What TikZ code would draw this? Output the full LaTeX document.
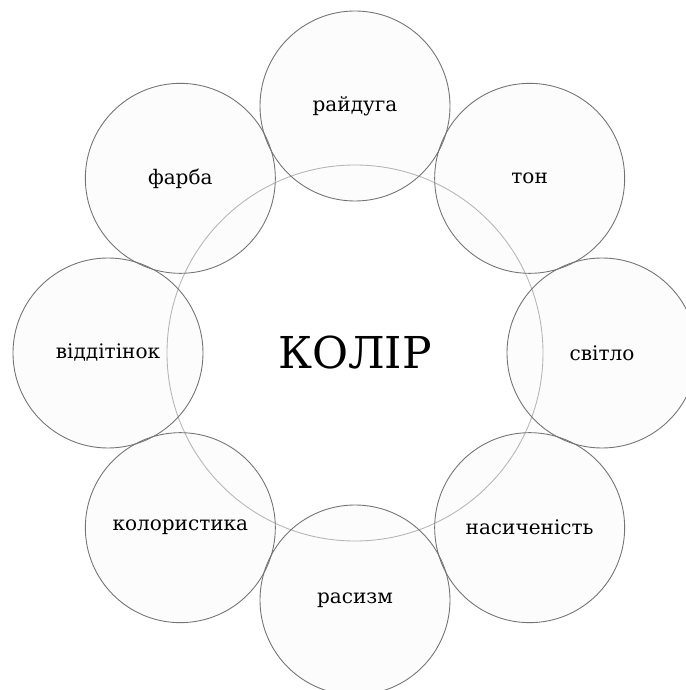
\documentclass[tikz,border=0pt]{standalone}
\usepackage{fontspec}
\newfontfamily\labelfont{DejaVu Serif}
\tikzset{
  ring circle/.style={
    circle,
    draw=black!55,
    line width=0.5pt,
    fill=black,
    fill opacity=0.012,
    text opacity=1,
    minimum size=3.8cm,
    inner sep=0pt,
    font=\labelfont\fontsize{11.4}{14}\selectfont
  },
  main circle/.style={
    circle,
    draw=black!28,
    line width=0.5pt,
    minimum size=7.52cm,
    inner sep=0pt,
    font=\labelfont\fontsize{25}{30}\selectfont
  }
}

\begin{document}
\begin{tikzpicture}
  \useasboundingbox (-7.1,-6.74) rectangle (6.6,7.06);
  \node[main circle] (kolir) at (0,0) {КОЛІР};
  \foreach \ang/\nm/\txt in {90/raiduha/райдуга, 45/ton/тон, 0/svitlo/світло,
      -45/nasychenist/насиченість, -90/rasyzm/расизм, -135/kororystyka/колористика,
      180/vidtinok/віддітінок, 135/farba/фарба} {
    \node[ring circle] (\nm) at (\ang:4.94) {\txt};
  }
\end{tikzpicture}
\end{document}
